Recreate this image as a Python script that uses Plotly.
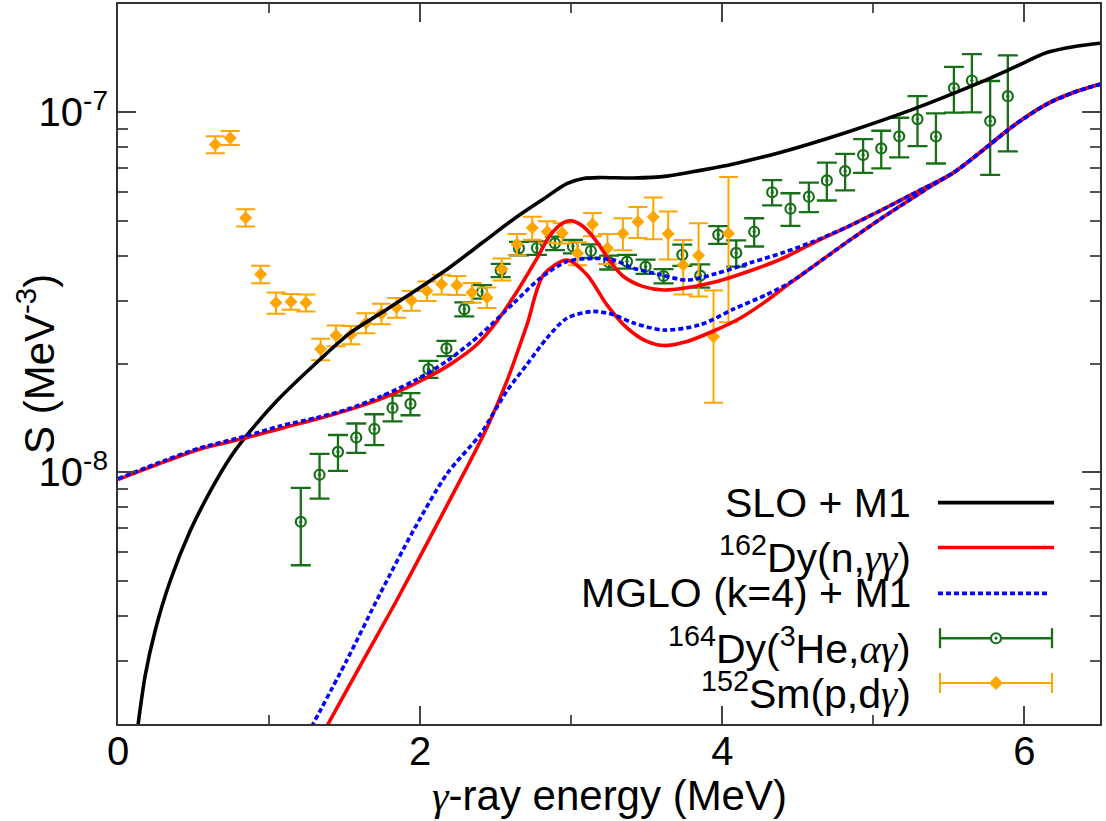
import plotly.graph_objects as go

# ---------------- data ----------------
# 152Sm(p,d gamma) strength function
sm_e = [0.644, 0.743, 0.845, 0.944, 1.046, 1.145, 1.244, 1.341, 1.443, 1.542,
        1.641, 1.743, 1.844, 1.943, 2.045, 2.142, 2.243, 2.343, 2.442, 2.541,
        2.641, 2.742, 2.841, 2.940, 3.042, 3.141, 3.240, 3.342, 3.441, 3.543,
        3.642, 3.741, 3.843, 3.942, 4.041]
sm_s = [8.14e-8, 8.49e-8, 5.10e-8, 3.55e-8, 2.96e-8, 2.98e-8, 2.96e-8, 2.20e-8, 2.40e-8, 2.41e-8,
        2.60e-8, 2.76e-8, 2.87e-8, 3.00e-8, 3.19e-8, 3.33e-8, 3.31e-8, 3.16e-8, 3.06e-8, 3.67e-8,
        4.30e-8, 4.78e-8, 4.66e-8, 4.62e-8, 4.06e-8, 4.89e-8, 4.19e-8, 4.61e-8, 4.97e-8, 5.12e-8,
        4.60e-8, 3.77e-8, 4.00e-8, 2.38e-8, 4.61e-8]
sm_err = [0.44e-8, 0.38e-8, 0.28e-8, 0.20e-8, 0.20e-8, 0.15e-8, 0.16e-8, 0.15e-8, 0.16e-8, 0.14e-8,
          0.165e-8, 0.18e-8, 0.18e-8, 0.19e-8, 0.20e-8, 0.21e-8, 0.20e-8, 0.20e-8, 0.20e-8, 0.26e-8,
          0.29e-8, 0.35e-8, 0.32e-8, 0.30e-8, 0.30e-8, 0.36e-8, 0.40e-8, 0.47e-8, 0.49e-8, 0.68e-8,
          0.70e-8, 0.65e-8, 0.92e-8, 0.82e-8, 2.0e-8]

# 164Dy(3He,alpha gamma) strength function
dy_e = [1.210, 1.334, 1.456, 1.577, 1.697, 1.817, 1.936, 2.055, 2.174, 2.292,
        2.410, 2.533, 2.654, 2.773, 2.892, 3.011, 3.130, 3.251, 3.369, 3.492,
        3.611, 3.735, 3.854, 3.973, 4.092, 4.211, 4.330, 4.451, 4.573, 4.692,
        4.813, 4.932, 5.052, 5.171, 5.292, 5.414, 5.533, 5.652, 5.773, 5.890]
dy_s = [0.729e-8, 0.985e-8, 1.14e-8, 1.25e-8, 1.32e-8, 1.51e-8, 1.55e-8, 1.935e-8, 2.21e-8, 2.84e-8,
        3.175e-8, 3.64e-8, 4.19e-8, 4.20e-8, 4.33e-8, 4.24e-8, 4.12e-8, 3.83e-8, 3.85e-8, 3.73e-8,
        3.51e-8, 4.02e-8, 3.52e-8, 4.57e-8, 4.07e-8, 4.66e-8, 6.00e-8, 5.40e-8, 5.83e-8, 6.47e-8,
        6.87e-8, 7.61e-8, 7.94e-8, 8.58e-8, 9.58e-8, 8.57e-8, 11.68e-8, 12.26e-8, 9.46e-8, 11.09e-8]
dy_err = [0.177e-8, 0.14e-8, 0.13e-8, 0.117e-8, 0.13e-8, 0.125e-8, 0.109e-8, 0.105e-8, 0.108e-8, 0.127e-8,
          0.135e-8, 0.155e-8, 0.18e-8, 0.18e-8, 0.185e-8, 0.18e-8, 0.18e-8, 0.17e-8, 0.17e-8, 0.17e-8,
          0.16e-8, 0.274e-8, 0.26e-8, 0.26e-8, 0.34e-8, 0.42e-8, 0.485e-8, 0.56e-8, 0.55e-8, 0.78e-8,
          0.80e-8, 0.82e-8, 0.95e-8, 1.08e-8, 1.52e-8, 1.36e-8, 1.70e-8, 2.26e-8, 2.76e-8, 3.3e-8]

# SLO + M1 model
slo_e = [0.125, 0.181, 0.247, 0.346, 0.478, 0.611, 0.743, 0.843, 1.052, 1.339,
         1.537, 1.758, 1.97, 2.199, 2.42, 2.641, 2.817, 2.971, 3.081, 3.192,
         3.412, 3.633, 3.854, 4.074, 4.383, 4.825, 5.265, 5.707, 5.927, 6.148,
         6.324, 6.5]
slo_s = [1.88e-9, 2.74e-9, 3.65e-9, 5.00e-9, 6.88e-9, 8.87e-9, 1.10e-8, 1.253e-8, 1.581e-8, 2.062e-8,
         2.44e-8, 2.80e-8, 3.20e-8, 3.72e-8, 4.37e-8, 5.13e-8, 5.75e-8, 6.34e-8, 6.55e-8, 6.59e-8,
         6.57e-8, 6.65e-8, 6.90e-8, 7.19e-8, 7.74e-8, 8.81e-8, 1.021e-7, 1.211e-7, 1.331e-7, 1.466e-7,
         1.522e-7, 1.556e-7]

# 162Dy(n,gamma gamma): upper and lower bounds
ngg_hi_e = [0.0, 0.324, 0.545, 0.843, 1.096, 1.317, 1.537, 1.758, 1.979, 2.199,
            2.376, 2.508, 2.641, 2.773, 2.861, 2.949, 3.005, 3.081, 3.17, 3.258,
            3.346, 3.478, 3.611, 3.743, 3.964, 4.185, 4.405, 4.604, 4.825, 5.045,
            5.265, 5.53, 5.707, 5.927, 6.148, 6.324, 6.5]
ngg_hi_s = [9.55e-9, 1.076e-8, 1.161e-8, 1.245e-8, 1.331e-8, 1.406e-8, 1.496e-8, 1.61e-8, 1.774e-8, 1.995e-8,
            2.265e-8, 2.627e-8, 3.18e-8, 3.93e-8, 4.56e-8, 4.94e-8, 4.995e-8, 4.81e-8, 4.37e-8, 3.85e-8,
            3.50e-8, 3.28e-8, 3.21e-8, 3.245e-8, 3.39e-8, 3.63e-8, 3.94e-8, 4.34e-8, 4.80e-8, 5.33e-8,
            5.95e-8, 6.80e-8, 7.74e-8, 9.18e-8, 1.054e-7, 1.135e-7, 1.197e-7]
ngg_lo_e = [1.37, 1.625, 1.846, 2.067, 2.287, 2.442, 2.574, 2.707, 2.817, 2.971,
            3.104, 3.236, 3.369, 3.501, 3.611, 3.766, 3.942, 4.118, 4.295, 4.45,
            4.604, 4.825, 5.045, 5.265, 5.376, 5.53, 5.707, 5.927, 6.148, 6.324, 6.5]
ngg_lo_s = [1.93e-9, 3.015e-9, 4.42e-9, 6.61e-9, 9.9e-9, 1.331e-8, 1.792e-8, 2.57e-8, 3.54e-8, 3.89e-8,
            3.54e-8, 2.92e-8, 2.52e-8, 2.31e-8, 2.25e-8, 2.31e-8, 2.47e-8, 2.68e-8, 3.00e-8, 3.36e-8,
            3.74e-8, 4.36e-8, 5.05e-8, 5.80e-8, 6.22e-8, 6.80e-8, 7.74e-8, 9.18e-8, 1.054e-7, 1.135e-7, 1.197e-7]

# MGLO (k=4) + M1 model: upper and lower bounds
mglo_hi_e = [0.0, 0.324, 0.545, 0.843, 1.075, 1.316, 1.516, 1.736, 1.956, 2.177,
             2.398, 2.618, 2.795, 2.971, 3.148, 3.28, 3.412, 3.589, 3.766, 3.964,
             4.185, 4.405, 4.604, 4.825, 5.045, 5.265, 5.53, 5.707, 5.927, 6.148, 6.324, 6.5]
mglo_hi_s = [9.6e-9, 1.085e-8, 1.17e-8, 1.26e-8, 1.346e-8, 1.419e-8, 1.496e-8, 1.622e-8, 1.792e-8, 2.037e-8,
             2.413e-8, 2.95e-8, 3.46e-8, 3.85e-8, 3.93e-8, 3.89e-8, 3.69e-8, 3.54e-8, 3.42e-8, 3.57e-8,
             3.82e-8, 4.08e-8, 4.38e-8, 4.80e-8, 5.33e-8, 5.95e-8, 6.80e-8, 7.74e-8, 9.18e-8, 1.054e-7, 1.135e-7, 1.197e-7]
mglo_lo_e = [1.28, 1.516, 1.736, 1.956, 2.177, 2.398, 2.574, 2.707, 2.839, 2.971,
             3.148, 3.28, 3.412, 3.611, 3.854, 4.074, 4.295, 4.45, 4.604, 4.825,
             5.045, 5.265, 5.376, 5.53, 5.707, 5.927, 6.148, 6.324, 6.5]
mglo_lo_s = [1.96e-9, 3.015e-9, 4.61e-9, 6.90e-9, 9.9e-9, 1.276e-8, 1.683e-8, 1.995e-8, 2.36e-8, 2.68e-8,
             2.80e-8, 2.74e-8, 2.60e-8, 2.485e-8, 2.57e-8, 2.84e-8, 3.12e-8, 3.37e-8, 3.74e-8, 4.36e-8,
             5.05e-8, 5.80e-8, 6.22e-8, 6.80e-8, 7.74e-8, 9.18e-8, 1.054e-7, 1.135e-7, 1.197e-7]

y_major = [1e-8, 1e-7]
y_major_text = ["10<sup>-8</sup>", "10<sup>-7</sup>"]
y_minor = [2e-9, 3e-9, 4e-9, 5e-9, 6e-9, 7e-9, 8e-9, 9e-9,
           2e-8, 3e-8, 4e-8, 5e-8, 6e-8, 7e-8, 8e-8, 9e-8, 2e-7]
x_major = [0, 2, 4, 6]
x_minor = [1, 3, 5]

SERIF_I = "<span style=\"font-family:'Liberation Serif'\"><i>{}</i></span>"
legend_labels = [
    "SLO + M1",
    "<sup>162</sup>Dy(n," + SERIF_I.format("γγ") + ")",
    "MGLO (k=4) + M1",
    "<sup>164</sup>Dy(<sup>3</sup>He," + SERIF_I.format("αγ") + ")",
    "<sup>152</sup>Sm(p,d" + SERIF_I.format("γ") + ")",
]
legend_has_sup = [False, True, False, True, True]

# ---------------- styling ----------------
FONT = "Liberation Sans, Arial, sans-serif"
FS_TICK = 40
FS_KEY = 41
FS_TITLE = 42
GREEN = "#177017"
ORANGE = "#FFA500"
RED = "#FF0000"
BLUE = "#0000FF"
LW = 3.6

fig = go.Figure()

fig.add_trace(go.Scatter(
    x=dy_e, y=dy_s, mode="markers",
    marker=dict(symbol="circle-open-dot", size=10, color=GREEN, line=dict(width=2.2, color=GREEN)),
    error_y=dict(type="data", array=dy_err, color=GREEN, thickness=2.3, width=10),
    showlegend=False))

fig.add_trace(go.Scatter(
    x=sm_e, y=sm_s, mode="markers",
    marker=dict(symbol="diamond", size=10, color=ORANGE, line=dict(width=0)),
    error_y=dict(type="data", array=sm_err, color=ORANGE, thickness=2.0, width=9.5),
    showlegend=False))

line_kw = dict(shape="spline", smoothing=0.8)
fig.add_trace(go.Scatter(x=slo_e, y=slo_s, mode="lines",
                         line=dict(color="black", width=LW, **line_kw), showlegend=False))
fig.add_trace(go.Scatter(x=ngg_hi_e, y=ngg_hi_s, mode="lines",
                         line=dict(color=RED, width=LW, **line_kw), showlegend=False))
fig.add_trace(go.Scatter(x=ngg_lo_e, y=ngg_lo_s, mode="lines",
                         line=dict(color=RED, width=LW, **line_kw), showlegend=False))
fig.add_trace(go.Scatter(x=mglo_hi_e, y=mglo_hi_s, mode="lines",
                         line=dict(color=BLUE, width=LW, dash="5px,3px", **line_kw), showlegend=False))
fig.add_trace(go.Scatter(x=mglo_lo_e, y=mglo_lo_s, mode="lines",
                         line=dict(color=BLUE, width=LW, dash="5px,3px", **line_kw), showlegend=False))

axis_common = dict(
    showline=True, linecolor="#333333", linewidth=2, mirror="ticks",
    showgrid=False, zeroline=False, ticks="inside", ticklen=18, tickwidth=1.5,
    tickcolor="#444444", tickfont=dict(family=FONT, size=FS_TICK, color="black"),
)

fig.update_xaxes(range=[0, 6.5], tickmode="array", tickvals=x_major,
                 ticktext=[str(v) for v in x_major], ticklabelstandoff=-9,
                 minor=dict(tickmode="array", tickvals=x_minor, ticks="inside",
                            ticklen=9, tickwidth=1.5, tickcolor="#555555"),
                 **axis_common)
fig.update_yaxes(type="log", range=[-8.699, -6.699], tickmode="array",
                 tickvals=y_major, ticktext=y_major_text,
                 minor=dict(tickmode="array", tickvals=y_minor, ticks="inside",
                            ticklen=10, tickwidth=1.5, tickcolor="#555555"),
                 **axis_common)

# plot area in pixels: x 118..1100, y 2..724
PW, PH = 982.0, 722.0


def px_x(p):
    return (p - 118) / PW


def px_y(p):
    return (724 - p) / PH


annotations = [
    dict(text=SERIF_I.format("γ") + "-ray energy (MeV)",
         xref="paper", yref="paper", x=0.5, y=px_y(796), xanchor="center", yanchor="middle",
         showarrow=False, font=dict(family=FONT, size=FS_TITLE, color="black")),
    dict(text="S (MeV<sup>-3</sup>)", textangle=-90,
         xref="paper", yref="paper", x=px_x(36), y=0.5, xanchor="center", yanchor="middle",
         showarrow=False, font=dict(family=FONT, size=FS_TITLE, color="black")),
]

# key: text right-aligned, sample to its right
rows_px = [502, 547, 593, 638, 683]
for lab, ry, sup in zip(legend_labels, rows_px, legend_has_sup):
    ty = ry + (8 if sup else 0)
    annotations.append(dict(text=lab, xref="paper", yref="paper", x=px_x(913), y=px_y(ty),
                            xanchor="right", yanchor="middle", showarrow=False,
                            font=dict(family=FONT, size=FS_KEY, color="black")))

shapes = []
xa, xb = px_x(938), px_x(1054)
shapes.append(dict(type="line", xref="paper", yref="paper", x0=xa, x1=xb,
                   y0=px_y(rows_px[0]), y1=px_y(rows_px[0]), line=dict(color="black", width=LW)))
shapes.append(dict(type="line", xref="paper", yref="paper", x0=xa, x1=xb,
                   y0=px_y(rows_px[1]), y1=px_y(rows_px[1]), line=dict(color=RED, width=LW)))
shapes.append(dict(type="line", xref="paper", yref="paper", x0=xa, x1=px_x(1050),
                   y0=px_y(rows_px[2]), y1=px_y(rows_px[2]),
                   line=dict(color=BLUE, width=LW, dash="5px,3px")))

for ry, col, thick in [(rows_px[3], GREEN, 2.3), (rows_px[4], ORANGE, 2.0)]:
    ya = px_y(ry)
    ex0, ex1 = px_x(940), px_x(1052)
    shapes.append(dict(type="line", xref="paper", yref="paper", x0=ex0, x1=ex1,
                       y0=ya, y1=ya, line=dict(color=col, width=thick)))
    for ex in (ex0, ex1):
        shapes.append(dict(type="line", xref="paper", yref="paper", x0=ex, x1=ex,
                           ysizemode="pixel", yanchor=ya, y0=-10, y1=10,
                           line=dict(color=col, width=thick)))

cx = px_x(996)
ya = px_y(rows_px[3])
shapes.append(dict(type="circle", xref="paper", yref="paper", xsizemode="pixel", ysizemode="pixel",
                   xanchor=cx, yanchor=ya, x0=-5, x1=5, y0=-5, y1=5,
                   fillcolor="white", line=dict(color=GREEN, width=2.2)))
shapes.append(dict(type="circle", xref="paper", yref="paper", xsizemode="pixel", ysizemode="pixel",
                   xanchor=cx, yanchor=ya, x0=-1.3, x1=1.3, y0=-1.3, y1=1.3,
                   fillcolor=GREEN, line=dict(color=GREEN, width=0.5)))
ya = px_y(rows_px[4])
shapes.append(dict(type="path", xref="paper", yref="paper", xsizemode="pixel", ysizemode="pixel",
                   xanchor=cx, yanchor=ya, path="M 0,-7 L 7,0 L 0,7 L -7,0 Z",
                   fillcolor=ORANGE, line=dict(color=ORANGE, width=0)))

fig.update_layout(
    width=1106, height=821,
    margin=dict(l=118, r=6, t=2, b=97),
    paper_bgcolor="white", plot_bgcolor="white",
    font=dict(family=FONT, size=FS_TICK, color="black"),
    showlegend=False,
    annotations=annotations,
    shapes=shapes,
)

fig.write_html("out.html")
